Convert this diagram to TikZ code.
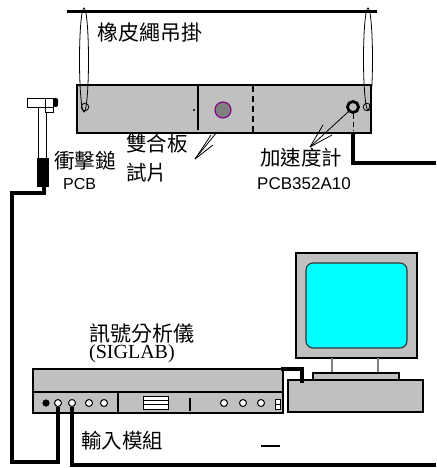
\documentclass[tikz,border=0pt]{standalone}
\usepackage{fontspec}
\setmainfont{Liberation Sans}
\newfontfamily\cjk{Noto Sans CJK TC}
\newfontfamily\romanlat{Liberation Serif}
\definecolor{panel}{RGB}{192,192,192}
\definecolor{knob}{RGB}{128,128,128}
\definecolor{rim}{RGB}{128,0,128}
\definecolor{screen}{RGB}{0,255,255}
\begin{document}
\begin{tikzpicture}[x=1pt,y=-1pt,
  lbl/.style={inner sep=0pt,anchor=base west,text=black},
  cjktext/.style={lbl,font=\cjk\fontsize{#1}{#1}\selectfont,text height=0.8em,text depth=0.05em},
  cjktext/.default=20.5,
  sanslat/.style={lbl,font=\fontsize{#1}{#1}\selectfont},
  seriflat/.style={lbl,font=\romanlat\fontsize{20}{20}\selectfont},
  box/.style={draw=black,fill=panel,line width=1.7pt},
  cable/.style={draw=black,line width=3.3pt},
  jack/.style={draw=black,fill=white,line width=1pt,circle,minimum size=7pt,inner sep=0pt},
  loop/.style={draw=black,line width=0.8pt},
  pointer/.style={draw=black,line width=0.8pt}]
\useasboundingbox (0,0) rectangle (436,468);

% --- suspension bar and test plate ---
\draw[line width=3pt] (67,12) coordinate (barL) -- (377,12) coordinate (barR);
\draw[box] (77,85) rectangle (371,133);
\draw[line width=1.4pt] (198,85) -- (198,130);
\fill (194,110) circle (1.2);
\draw[line width=1.2pt,dash pattern=on 6pt off 4pt] (253,86) -- (253,133);
\draw[draw=rim,fill=knob,line width=1.1pt] (223,110) circle (8);

% rubber loops
\draw[loop] (84,60) ellipse (4.5 and 52);
\draw[loop] (85,107) circle (3.8);
\draw[loop] (368,59) ellipse (4.5 and 51);
\draw[loop] (367,107) circle (3.8);

% accelerometer
\node[draw=black,line width=2.8pt,circle,minimum size=11pt,inner sep=0pt] (acc) at (353,107) {};
\draw[line width=0.9pt,dash pattern=on 5pt off 3pt] (acc.south) -- (353,131);
\coordinate (accOut) at (353,133);
\coordinate (accBend) at (353,163);
\coordinate (accEnd) at (436,163);
\draw[cable] (accOut) -- (accBend) -- (accEnd);

% pointers
\coordinate (tipA) at (195,159);
\draw[pointer] (tipA) -- (217,132);
\draw[pointer] (tipA) -- (211,135);
\draw[pointer] (tipA) -- (213,145);
\coordinate (tipB) at (310,147);
\draw[pointer] (tipB) -- (acc.south west);
\draw[pointer] (tipB) -- (323,125);
\draw[pointer] (tipB) -- (332,135);

% --- impact hammer ---
\draw[line width=0.9pt,fill=white] (27,98) rectangle (53,107);
\draw[line width=0.9pt] (45,98) -- (45,112) -- (53,112) -- (53,98);
\fill[rounded corners=2pt] (53,98) rectangle (58,107);
\draw[line width=0.9pt] (38,107) -- (38,158);
\draw[line width=0.9pt] (46,112) -- (46,158);
\fill (37,158) rectangle (49,187);
\coordinate (hamOut) at (44,187);

% --- signal analyzer ---
\draw[box] (33,369) rectangle (283,413);
\draw[line width=1.1pt] (33,392) -- (283,392);
\draw[line width=1.1pt] (118,392) -- (118,413);
\draw[line width=1.8pt] (190,398) -- (190,411);
\fill (46,403) circle (3.6);
\node[jack] (in1) at (58,403) {};
\node[jack] (in2) at (72,403) {};
\node[jack] (in3) at (89,403) {};
\node[jack] (in4) at (104,403) {};
\node[jack] (out1) at (224,403) {};
\node[jack] (out2) at (243,403) {};
\node[jack] (out3) at (261,403) {};
\draw[line width=0.9pt,fill=white] (143,396) rectangle (168,409);
\draw[line width=0.9pt] (143,400) -- (168,400) (143,404.5) -- (168,404.5);
\draw[line width=0.9pt,fill=white] (275,399) rectangle (280,409);
\draw[line width=0.9pt] (275,404) -- (280,404);
\coordinate (anaTop) at (281,369);

% --- computer ---
\draw[box] (296,253) rectangle (417,358);
\draw[draw=black!80,fill=screen,line width=1.1pt,rounded corners=7pt] (306,263) rectangle (407,348);
\draw[draw=knob,line width=1.1pt] (332,358) -- (332,373) (378,358) -- (378,373);
\draw[box,line width=1.3pt] (313,373) rectangle (399,380);
\draw[box] (288,380) rectangle (423,412);
\coordinate (pcIn) at (302,383);

% --- cables ---
\draw[cable] (anaTop) -- (302,369) -- (pcIn);
\draw[cable] (in1.south) -- (58,462) -- (12,462) -- (12,193) -- (44,193) -- (hamOut);
\draw[cable] (in2.south) -- (72,465) -- (436,465) coordinate (busEnd);
\draw[line width=1.6pt] (261,446) -- (280,446);

% --- labels ---
\node[cjktext=21] (tRope) at (97,41) {橡皮繩吊掛};
\node[cjktext] (tPlate1) at (126,151) {雙合板};
\node[cjktext] (tPlate2) at (126,180) {試片};
\node[cjktext] (tHam) at (54,168) {衝擊鎚};
\node[sanslat=16] (tHamPCB) at (63,189) {PCB};
\node[cjktext] (tAcc) at (260,165) {加速度計};
\node[sanslat=17] (tAccPCB) at (257,189.5) {PCB352A10};
\node[cjktext=21] (tAna) at (89,341) {訊號分析儀};
\node[seriflat] (tSig) at (89,358) {(SIGLAB)};
\node[cjktext] (tIn) at (81,448) {輸入模組};
\end{tikzpicture}
\end{document}
